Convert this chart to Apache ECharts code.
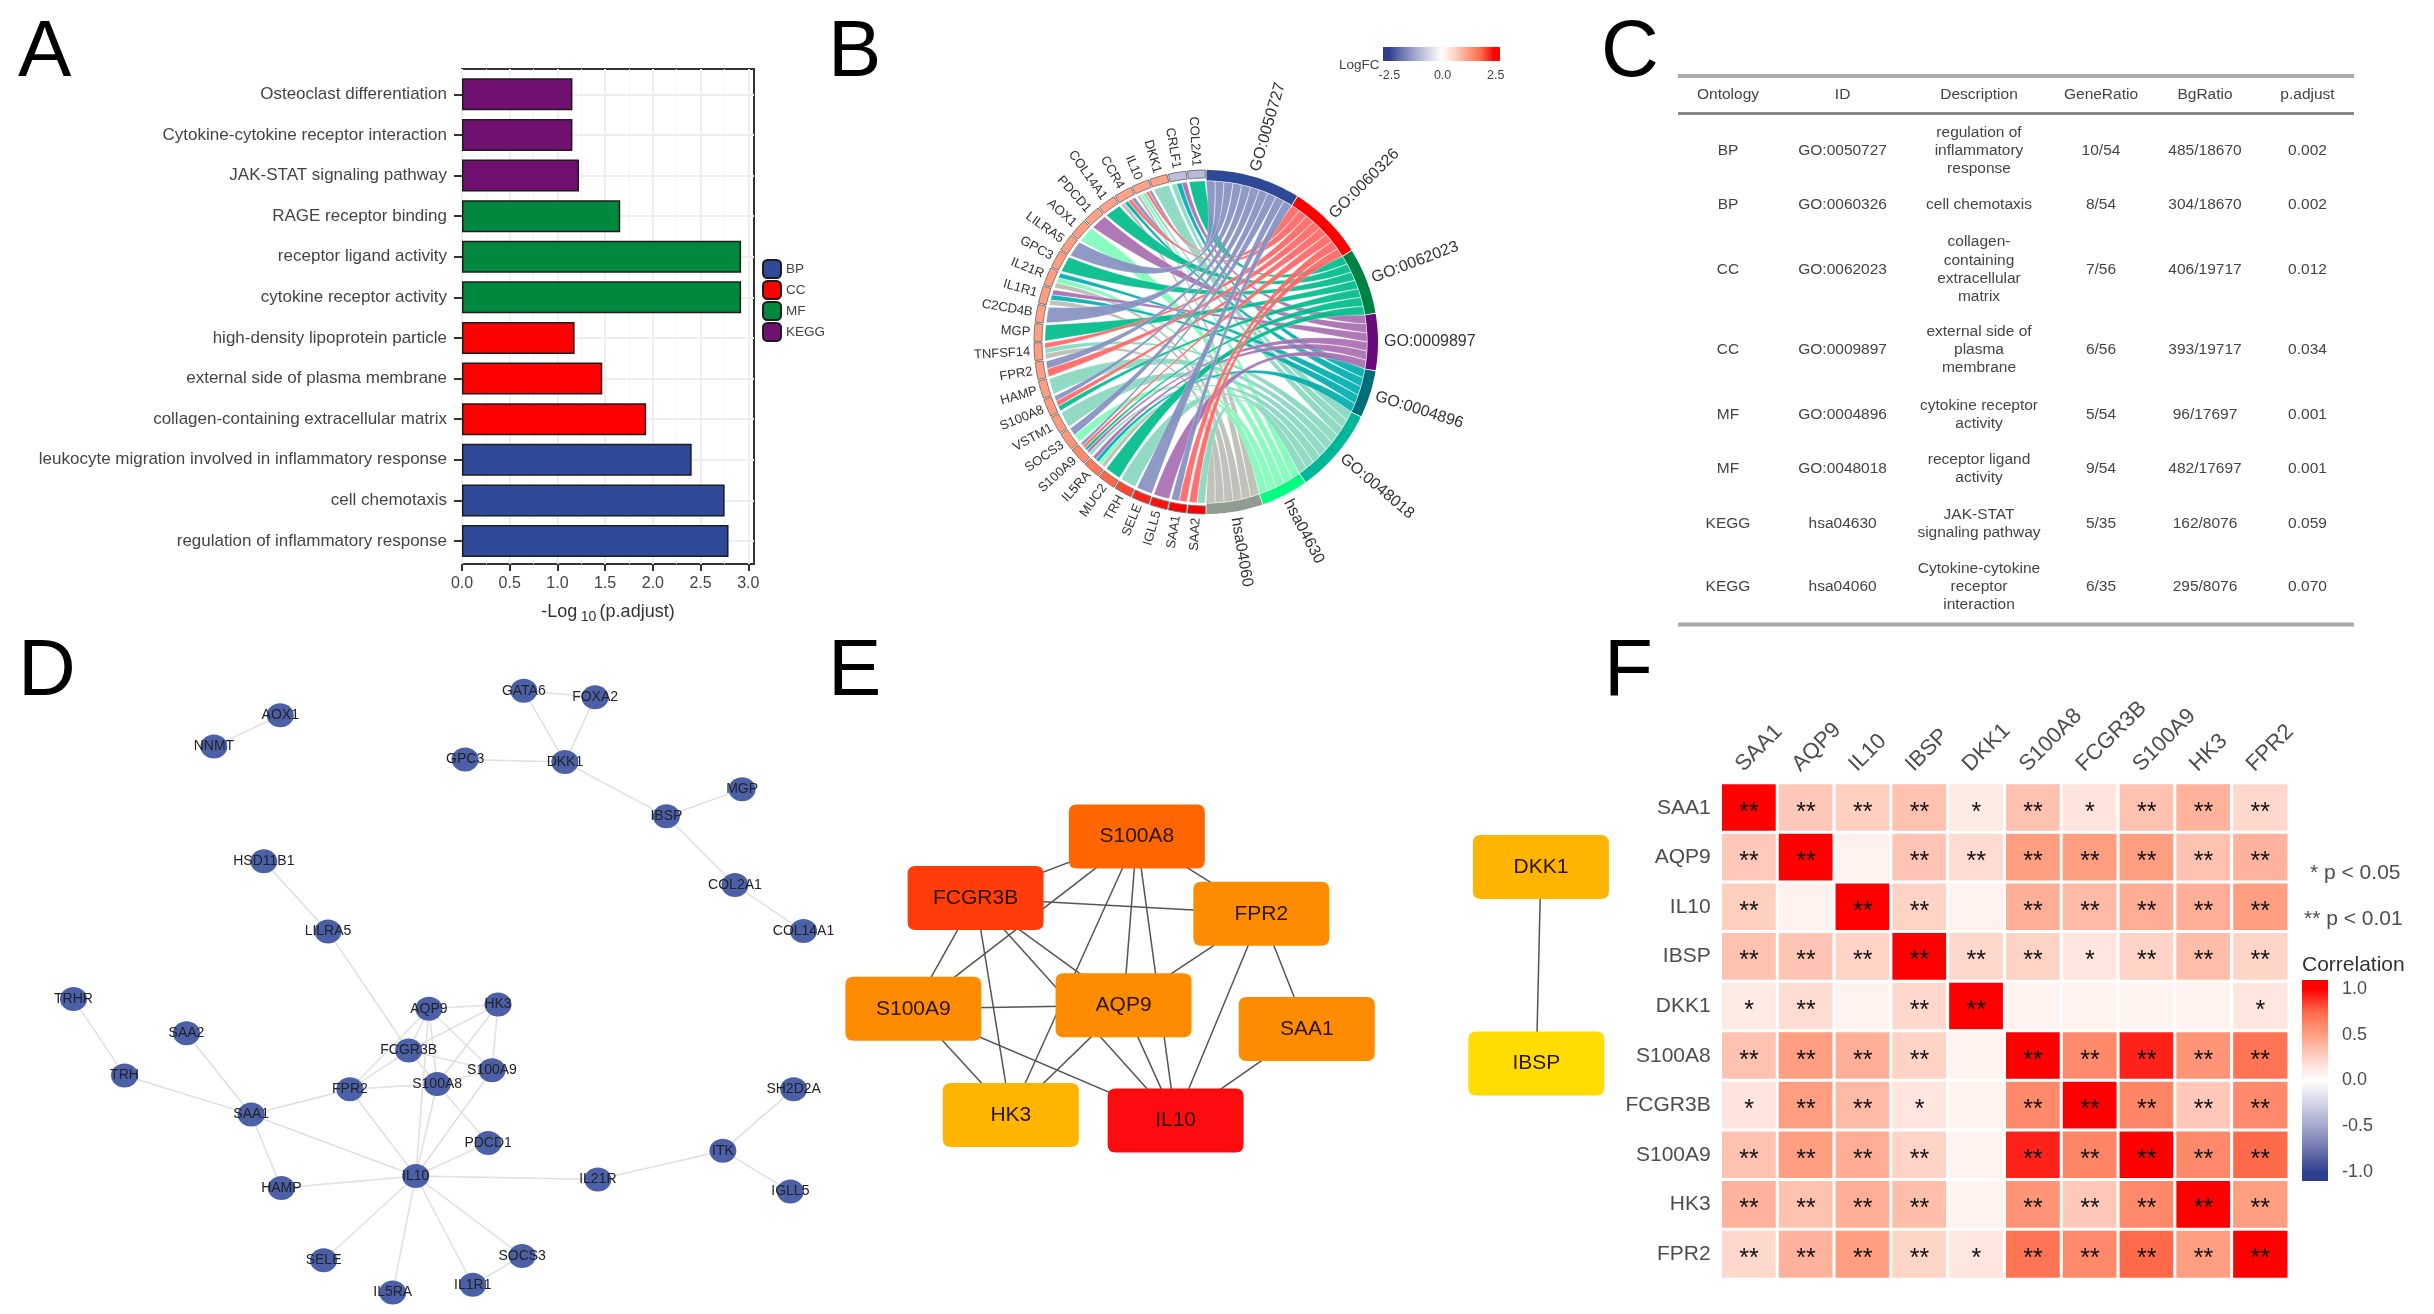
<!DOCTYPE html>
<html><head><meta charset="utf-8">
<style>html,body{margin:0;padding:0;background:#fff}#c{width:2434px;height:1314px}</style>
<script src="https://cdn.jsdelivr.net/npm/echarts@6/dist/echarts.min.js"></script>
</head><body><div id="c"></div>
<script>
const FONT='"Liberation Sans",Arial,sans-serif';
// ---------- Panel A
const enrichTerms=['Osteoclast differentiation','Cytokine-cytokine receptor interaction','JAK-STAT signaling pathway','RAGE receptor binding','receptor ligand activity','cytokine receptor activity','high-density lipoprotein particle','external side of plasma membrane','collagen-containing extracellular matrix','leukocyte migration involved in inflammatory response','cell chemotaxis','regulation of inflammatory response'];
const enrichValues=[1.157,1.157,1.226,1.658,2.925,2.925,1.18,1.47,1.93,2.407,2.752,2.793];
const enrichGroups=['KEGG','KEGG','KEGG','MF','MF','MF','CC','CC','CC','BP','BP','BP'];
const groupNames=['BP','CC','MF','KEGG'];
const groupColors=['#2F4A96','#FF0000','#00883E','#701070'];
const enrichTicks=[0,0.5,1,1.5,2,2.5,3];
// ---------- Panel B
const termNames=['GO:0050727','GO:0060326','GO:0062023','GO:0009897','GO:0004896','GO:0048018','hsa04630','hsa04060'];
const termRing=['#2E4A96','#FF0000','#008244','#6A0A7A','#006E78','#00B898','#00FF80','#909C90'];
const termRibbon=['#8490C0','#FF6666','#00BC8C','#A86CB0','#00AEAE','#88D8C0','#80FBB8','#B8BDB2'];
const geneNames=['COL2A1','CRLF1','DKK1','IL10','CCR4','COL14A1','PDCD1','AOX1','LILRA5','GPC3','IL21R','IL1R1','C2CD4B','MGP','TNFSF14','FPR2','HAMP','S100A8','VSTM1','SOCS3','S100A9','IL5RA','MUC2','TRH','SELE','IGLL5','SAA1','SAA2'];
const geneLogFC=[-1.0,-0.9,1.2,1.2,1.2,1.2,1.2,1.25,1.25,1.25,1.25,1.25,1.25,1.25,1.25,1.25,1.25,1.3,1.3,1.35,1.5,1.7,1.9,2.1,2.3,2.4,2.5,2.5];
const geneTerms=[[2],[3,4,5],[5],[0,1,5,6,7],[0,1,4,7],[2],[3],[6],[0],[2],[4,6,7],[3,4,7],[0],[2],[1,5,7],[0,1],[5],[0,1,2],[5],[0,6],[0,1,2,3,5],[3,4,6,7],[2],[5],[0],[3],[0,1],[1,5]];
const logFCTicks=[-2.5,0,2.5];
// ---------- Panel C
const tableHead=['Ontology','ID','Description','GeneRatio','BgRatio','p.adjust'];
const tableOntology=['BP','BP','CC','CC','MF','MF','KEGG','KEGG'];
const tableID=['GO:0050727','GO:0060326','GO:0062023','GO:0009897','GO:0004896','GO:0048018','hsa04630','hsa04060'];
const tableDesc=['regulation of\ninflammatory\nresponse','cell chemotaxis','collagen-\ncontaining\nextracellular\nmatrix','external side of\nplasma\nmembrane','cytokine receptor\nactivity','receptor ligand\nactivity','JAK-STAT\nsignaling pathway','Cytokine-cytokine\nreceptor\ninteraction'];
const tableGene=['10/54','8/54','7/56','6/56','5/54','9/54','5/35','6/35'];
const tableBg=['485/18670','304/18670','406/19717','393/19717','96/17697','482/17697','162/8076','295/8076'];
const tableP=['0.002','0.002','0.012','0.034','0.001','0.001','0.059','0.070'];
// ---------- Panel D
const ppiNodes=[['AOX1',511,175],['NNMT',390,248],['GATA6',955,118],['FOXA2',1085,133],['GPC3',848,278],['DKK1',1030,284],['IBSP',1215,410],['MGP',1353,347],['COL2A1',1340,570],['COL14A1',1465,677],['HSD11B1',481,515],['LILRA5',598,678],['TRHR',134,835],['SAA2',340,915],['TRH',227,1013],['SAA1',458,1104],['FPR2',638,1045],['FCGR3B',745,955],['AQP9',782,858],['HK3',908,848],['S100A9',897,1001],['S100A8',797,1033],['PDCD1',890,1170],['IL10',758,1247],['HAMP',513,1275],['IL21R',1090,1255],['ITK',1318,1188],['SH2D2A',1447,1045],['IGLL5',1441,1283],['SELE',590,1443],['IL5RA',716,1518],['IL1R1',862,1500],['SOCS3',952,1433]];
const ppiEdges=[['AOX1','NNMT'],['GATA6','FOXA2'],['GATA6','DKK1'],['FOXA2','DKK1'],['GPC3','DKK1'],['DKK1','IBSP'],['IBSP','MGP'],['IBSP','COL2A1'],['COL2A1','COL14A1'],['HSD11B1','LILRA5'],['LILRA5','FCGR3B'],['TRHR','TRH'],['TRH','SAA1'],['SAA2','SAA1'],['SAA1','FPR2'],['SAA1','IL10'],['SAA1','HAMP'],['HAMP','IL10'],['FPR2','IL10'],['FPR2','FCGR3B'],['FPR2','AQP9'],['FPR2','S100A8'],['FCGR3B','AQP9'],['FCGR3B','HK3'],['FCGR3B','S100A9'],['FCGR3B','S100A8'],['AQP9','HK3'],['AQP9','S100A9'],['AQP9','S100A8'],['AQP9','IL10'],['HK3','S100A9'],['HK3','S100A8'],['S100A9','IL10'],['S100A8','IL10'],['S100A8','PDCD1'],['S100A8','S100A9'],['PDCD1','IL10'],['IL10','IL21R'],['IL21R','ITK'],['ITK','SH2D2A'],['ITK','IGLL5'],['IL10','SELE'],['IL10','IL5RA'],['IL10','IL1R1'],['IL10','SOCS3'],['IL1R1','SOCS3']];
// ---------- Panel E
const hubNodes=[['S100A8',621,457,'#FF6600'],['FCGR3B',305,600,'#FF3C0A'],['FPR2',865,637,'#FF8C00'],['S100A9',183,858,'#FF8C00'],['AQP9',595,850,'#FF8C00'],['SAA1',954,905,'#FF8C00'],['HK3',374,1105,'#FFB400'],['IL10',697,1118,'#FF0A0F'],['DKK1',1413,528,'#FFB400'],['IBSP',1404,985,'#FFDD00']];
const hubEdges=[['S100A8','FCGR3B'],['S100A9','S100A8'],['S100A8','FPR2'],['S100A8','AQP9'],['S100A8','IL10'],['S100A8','HK3'],['FCGR3B','FPR2'],['FCGR3B','S100A9'],['FCGR3B','HK3'],['FCGR3B','AQP9'],['FCGR3B','IL10'],['FPR2','AQP9'],['FPR2','IL10'],['FPR2','SAA1'],['S100A9','AQP9'],['S100A9','HK3'],['S100A9','IL10'],['AQP9','HK3'],['AQP9','IL10'],['SAA1','IL10'],['DKK1','IBSP']];
// ---------- Panel F
const corrGenes=['SAA1','AQP9','IL10','IBSP','DKK1','S100A8','FCGR3B','S100A9','HK3','FPR2'];
const corrRows=[
[1,.30,.27,.33,.12,.33,.15,.33,.40,.22],
[.30,1,.08,.32,.20,.50,.50,.50,.33,.40],
[.27,.08,1,.25,.08,.42,.37,.43,.42,.50],
[.33,.32,.25,1,.22,.25,.14,.25,.35,.24],
[.12,.20,.08,.22,1,.07,.07,.07,.07,.14],
[.33,.50,.42,.25,.07,1,.60,.92,.55,.70],
[.15,.50,.37,.14,.07,.60,1,.62,.30,.60],
[.33,.50,.43,.25,.07,.92,.62,1,.60,.75],
[.40,.33,.42,.35,.07,.55,.30,.60,1,.50],
[.22,.40,.50,.24,.14,.70,.60,.75,.50,1]];
const corrStars=[
[2,2,2,2,1,2,1,2,2,2],
[2,2,0,2,2,2,2,2,2,2],
[2,0,2,2,0,2,2,2,2,2],
[2,2,2,2,2,2,1,2,2,2],
[1,2,0,2,2,0,0,0,0,1],
[2,2,2,2,0,2,2,2,2,2],
[1,2,2,1,0,2,2,2,2,2],
[2,2,2,2,0,2,2,2,2,2],
[2,2,2,2,0,2,2,2,2,2],
[2,2,2,2,1,2,2,2,2,2]];
const corrTicks=[-1,-0.5,0,0.5,1];

// ---------- helpers
const BLUE='#2E3F8F';
const DIVERGE=[BLUE,'#6F76AE','#A4A8CD','#D3D4E6','#ffffff','#FFD3C6','#FF9E81','#FF6A4A','#ff0000'];
function mix(a,b,t){const p=s=>[1,3,5].map(i=>parseInt(s.substr(i,2),16));const A=p(a),B=p(b);return 'rgb('+A.map((v,i)=>Math.round(v+(B[i]-v)*t)).join(',')+')';}
function fcColor(v){const t=(Math.max(-1,Math.min(1,v/2.5))+1)/2*(DIVERGE.length-1);const i=Math.min(DIVERGE.length-2,Math.floor(t));return mix(DIVERGE[i],DIVERGE[i+1],t-i);}
function barStops(lo,hi){
  const n=DIVERGE.length-1,s=[{offset:0,color:DIVERGE[0]}];
  DIVERGE.forEach((c,i)=>s.push({offset:lo+(hi-lo)*i/n,color:c}));
  s.push({offset:1,color:DIVERGE[n]});return s;}

// chord layout derived from arrays
const termCount=termNames.map((_,t)=>geneTerms.filter(g=>g.includes(t)).length);
const totalLinks=termCount.reduce((a,b)=>a+b,0);
const termStart=[];let acc=0;termCount.forEach((c,i)=>{termStart[i]=acc;acc+=c*180/totalLinks;});
const geneW=180/geneNames.length;
const ribbons=[];const used=termNames.map(()=>0);
geneTerms.forEach((ts,g)=>{ts.forEach((t,k)=>{
  const unit=180/totalLinks;const a1=termStart[t]+used[t]*unit;used[t]++;
  const top=360-g*geneW-0.35,span=(geneW-0.7)/ts.length;
  const b2=top-k*span,b1=b2-span;
  ribbons.push([t,g,a1+0.05,a1+unit-0.05,b1+0.05,b2-0.05]);
});});
const RO=172,RI=161,CTRL_R=30,CTRL_A=25;
function arcPts(api,r,a,b,n){const o=[];for(let i=0;i<=n;i++)o.push(api.coord([r,a+(b-a)*i/n]));return o;}
function quad(p,c,q,n){const o=[];for(let i=1;i<n;i++){const t=i/n,u=1-t;o.push([u*u*p[0]+2*u*t*c[0]+t*t*q[0],u*u*p[1]+2*u*t*c[1]+t*t*q[1]]);}return o;}
const renderRibbon=(params,api)=>{
  const d=ribbons[params.dataIndex];const c=api.coord([CTRL_R,CTRL_A]);
  const A=arcPts(api,RI,d[2],d[3],8),B=arcPts(api,RI,d[4],d[5],6);
  const a0=A[0],a1=A[A.length-1],b0=B[0],b1=B[B.length-1];
  const wa=Math.hypot(a1[0]-a0[0],a1[1]-a0[1]),wb=Math.hypot(b1[0]-b0[0],b1[1]-b0[1]);
  const ux=(a1[0]-a0[0])/wa,uy=(a1[1]-a0[1])/wa,k=(wa+wb)/14;
  const c1=[c[0]-ux*k,c[1]-uy*k],c2=[c[0]+ux*k,c[1]+uy*k];
  const pts=[...A,...quad(a1,c1,b0,24),...B,...quad(b1,c2,a0,24)];
  return {type:'polygon',shape:{points:pts},style:{fill:termRibbon[d[0]],stroke:'#fff',lineWidth:0.3,opacity:0.92}};
};
const renderTerm=(params,api)=>{
  const t=params.dataIndex,a=termStart[t]+0.15,b=a+termCount[t]*180/totalLinks-0.3;
  const pts=[...arcPts(api,RO,a,b,24),...arcPts(api,RI+0.5,b,a,24)];
  const mid=(a+b)/2,p=api.coord([RO+6,mid]);
  return {type:'group',children:[
    {type:'polygon',shape:{points:pts},style:{fill:termRing[t]}},
    {type:'text',x:p[0],y:p[1],rotation:(90-mid)*Math.PI/180,style:{text:termNames[t],x:0,y:0,fill:'#333',fontSize:16,fontFamily:FONT,textAlign:'left',textVerticalAlign:'middle'}}
  ]};
};
const renderGene=(params,api)=>{
  const g=params.dataIndex,b=360-g*geneW-0.25,a=b-geneW+0.5;
  const pts=[...arcPts(api,RO,a,b,8),...arcPts(api,RI+3,b,a,8)];
  const mid=(a+b)/2,p=api.coord([RO+4,mid]);
  return {type:'group',children:[
    {type:'polygon',shape:{points:pts},style:{fill:fcColor(geneLogFC[g]),stroke:'#777',lineWidth:1}},
    {type:'text',x:p[0],y:p[1],rotation:(270-mid)*Math.PI/180,style:{text:geneNames[g],x:0,y:0,fill:'#333',fontSize:13,fontFamily:FONT,textAlign:'right',textVerticalAlign:'middle'}}
  ]};
};

// ---------- graphics (panel letters, table, notes)
const graphics=[];
function txt(s,x,y,size,fill,align,valign){graphics.push({type:'text',x,y,silent:true,style:{text:s,fontSize:size,fontFamily:FONT,fill,textAlign:align||'center',textVerticalAlign:valign||'middle',lineHeight:18.2}});}
[['A',18,94],['B',828,94],['C',1601,94],['D',18,713],['E',828,713],['F',1604,713]].forEach(l=>{graphics.push({type:'text',x:l[1],y:l[2],silent:true,style:{text:l[0],fontSize:80,fontFamily:FONT,fill:'#000',textAlign:'left',textVerticalAlign:'bottom'}});});
const colX=[1728,1842.6,1979,2101,2205,2307.5];
const rowY=[151,205,269.4,350,414.7,468.6,523.7,586.5];
const tableCols=[tableOntology,tableID,tableDesc,tableGene,tableBg,tableP];
tableHead.forEach((h,i)=>txt(h,colX[i],95,15.5,'#444'));
tableCols.forEach((col,i)=>col.forEach((v,r)=>txt(v,colX[i],rowY[r],15.5,'#444')));
[[76,'#aaa',4],[113.5,'#888',3],[624.5,'#aaa',4]].forEach(r=>graphics.push({type:'line',silent:true,shape:{x1:1678,y1:r[0],x2:2354,y2:r[0]},style:{stroke:r[1],lineWidth:r[2]}}));
txt('LogFC',1339,65,13.5,'#444','left');
txt('* p < 0.05',2310,873,21,'#4d4d4d','left');
txt('** p < 0.01',2304,919,21,'#4d4d4d','left');
txt('Correlation',2302,965,21,'#333','left');

// ---------- options
const axisGrey='#333';
const grids=[
 {left:462,top:69,width:292,height:495,show:true,borderColor:'#333',borderWidth:2,backgroundColor:'#fff'},
 {left:462,top:94.3,width:292,height:446.7},
 {left:1383,top:47,width:117,height:14,show:true,borderWidth:0,backgroundColor:{type:'linear',x:0,y:0,x2:1,y2:0,colorStops:barStops(.05,.95)}},
 {left:0,top:640,width:860,height:674},
 {left:820,top:640,width:800,height:674},
 {left:1720.7,top:783,width:568,height:496},
 {left:2302,top:980,width:26,height:201,show:true,borderWidth:0,backgroundColor:{type:'linear',x:0,y:1,x2:0,y2:0,colorStops:barStops(.045,.955)}},
 {left:1710.7,top:783,width:568,height:496}
];
const xAxes=[
 {gridIndex:0,type:'value',min:0,max:3.06,interval:.5,axisLine:{show:false},
  axisTick:{show:true,length:7,customValues:enrichTicks,lineStyle:{color:axisGrey,width:2}},
  axisLabel:{customValues:enrichTicks,formatter:v=>v.toFixed(1),fontSize:16,color:'#444',margin:12},
  splitLine:{show:true,lineStyle:{color:'#eeeeee',width:2}},
  minorTick:{show:false,splitNumber:2},minorSplitLine:{show:true,lineStyle:{color:'#f4f4f4',width:1}},
  name:'{a|-Log} {s|10} {a|(p.adjust)}',nameLocation:'middle',nameGap:36,
  nameTextStyle:{rich:{a:{fontSize:18,color:'#333',fontFamily:FONT},s:{fontSize:14,color:'#333',fontFamily:FONT,padding:[10,0,0,0]}}}},
 {gridIndex:1,type:'value',min:0,max:3.06,show:false},
 {gridIndex:2,type:'value',min:-2.8,max:2.7,axisLine:{show:false},axisTick:{show:false},splitLine:{show:false},
  axisLabel:{customValues:logFCTicks,formatter:v=>v.toFixed(1),fontSize:12.5,color:'#444',margin:8}},
 {gridIndex:3,type:'value',min:0,max:1568,show:false},
 {gridIndex:4,type:'value',min:0,max:1568,show:false},
 {gridIndex:5,type:'category',data:corrGenes,position:'top',axisLine:{show:false},axisTick:{show:false},splitLine:{show:false},axisLabel:{show:false}},
 {gridIndex:6,type:'value',min:0,max:1,show:false},
 {gridIndex:7,type:'category',data:corrGenes,position:'top',axisLine:{show:false},axisTick:{show:false},splitLine:{show:false},
  axisLabel:{rotate:-45,fontSize:22,color:'#4D4D4D',margin:15,interval:0}}
];
const yAxes=[
 {gridIndex:0,type:'value',min:0,max:1,show:false},
 {gridIndex:1,type:'category',data:enrichTerms,inverse:true,boundaryGap:false,axisLine:{show:false},
  axisTick:{show:true,length:8,lineStyle:{color:axisGrey,width:2}},
  axisLabel:{fontSize:17,color:'#444',margin:15,interval:0},
  splitLine:{show:true,interval:0,lineStyle:{color:'#eeeeee',width:2}},z:1},
 {gridIndex:2,type:'value',min:0,max:1,show:false},
 {gridIndex:3,type:'value',min:0,max:1568,inverse:true,show:false},
 {gridIndex:4,type:'value',min:0,max:1568,inverse:true,show:false},
 {gridIndex:5,type:'category',data:corrGenes,inverse:true,axisLine:{show:false},axisTick:{show:false},splitLine:{show:false},
  axisLabel:{fontSize:21,color:'#4D4D4D',margin:10,interval:0}},
 {gridIndex:6,type:'value',min:-1.1,max:1.1,position:'right',axisLine:{show:false},splitLine:{show:false},
  axisTick:{show:true,inside:true,length:5,customValues:corrTicks,lineStyle:{color:'#fff',width:2}},
  axisLabel:{customValues:corrTicks,formatter:v=>v.toFixed(1),fontSize:18,color:'#4d4d4d',margin:14}},
 {gridIndex:7,type:'category',data:corrGenes,inverse:true,show:false}
];
const barSeries=groupNames.map((g,i)=>({
  type:'bar',name:g,xAxisIndex:1,yAxisIndex:1,stack:'all',barWidth:32,clip:false,z:3,
  itemStyle:{color:groupColors[i],borderColor:'#1c1c1c',borderWidth:1.5},
  data:enrichValues.map((v,k)=>enrichGroups[k]===g?v:null)
}));
const heat=[];corrRows.forEach((row,y)=>row.forEach((v,x)=>heat.push({value:[x,y,v],stars:corrStars[y][x]})));
const ribbonData=ribbons.map(r=>[r[0],r[1]]);
const option={
 animation:false,backgroundColor:'#fff',textStyle:{fontFamily:FONT},
 grid:grids,xAxis:xAxes,yAxis:yAxes,
 polar:{center:[1206,342],radius:[0,RO]},
 angleAxis:{min:0,max:360,startAngle:90,show:false},
 radiusAxis:{min:0,max:RO,show:false},
 legend:{orient:'vertical',left:762,top:259,itemWidth:18,itemHeight:18,itemGap:1,selectedMode:false,data:groupNames,textStyle:{fontSize:13.5,color:'#444'},padding:0},
 visualMap:[{show:false,seriesIndex:barSeries.length+5,dimension:2,min:-1,max:1,inRange:{color:DIVERGE}}],
 graphic:{elements:graphics},
 series:[...barSeries,
  {type:'custom',coordinateSystem:'polar',renderItem:renderRibbon,data:ribbonData,clip:false,silent:true,z:2,encode:{radius:0,angle:1}},
  {type:'custom',coordinateSystem:'polar',renderItem:renderTerm,data:termNames.map((_,i)=>[i,i]),clip:false,silent:true,z:3,encode:{radius:0,angle:1}},
  {type:'custom',coordinateSystem:'polar',renderItem:renderGene,data:geneNames.map((_,i)=>[i,i]),clip:false,silent:true,z:3,encode:{radius:0,angle:1}},
  {type:'graph',coordinateSystem:'cartesian2d',xAxisIndex:3,yAxisIndex:3,layout:'none',symbol:'circle',symbolSize:[27,24],
   itemStyle:{color:'#4C60A8'},label:{show:true,position:'inside',fontSize:14,color:'#222'},lineStyle:{color:'#e0e0e0',width:1.5,opacity:1,curveness:0},
   data:ppiNodes.map(n=>({name:n[0],value:[n[1],n[2]]})),links:ppiEdges.map(e=>({source:e[0],target:e[1]}))},
  {type:'graph',coordinateSystem:'cartesian2d',xAxisIndex:4,yAxisIndex:4,layout:'none',symbol:'path://M8,0H128Q136,0 136,8V56Q136,64 128,64H8Q0,64 0,56V8Q0,0 8,0Z',symbolSize:[136,64],
   label:{show:true,position:'inside',fontSize:21,color:'#2a1500'},lineStyle:{color:'#555',width:1.5,opacity:1,curveness:0},
   data:hubNodes.map(n=>({name:n[0],value:[n[1],n[2]],itemStyle:{color:n[3]}})),links:hubEdges.map(e=>({source:e[0],target:e[1]}))},
  {type:'heatmap',xAxisIndex:5,yAxisIndex:5,data:heat,itemStyle:{borderColor:'#fff',borderWidth:3},
   label:{show:true,fontSize:25,color:'#111',offset:[0,5],formatter:p=>'*'.repeat(p.data.stars)}}
 ]
};
echarts.init(document.getElementById('c'),null,{renderer:'canvas'}).setOption(option);
</script></body></html>
